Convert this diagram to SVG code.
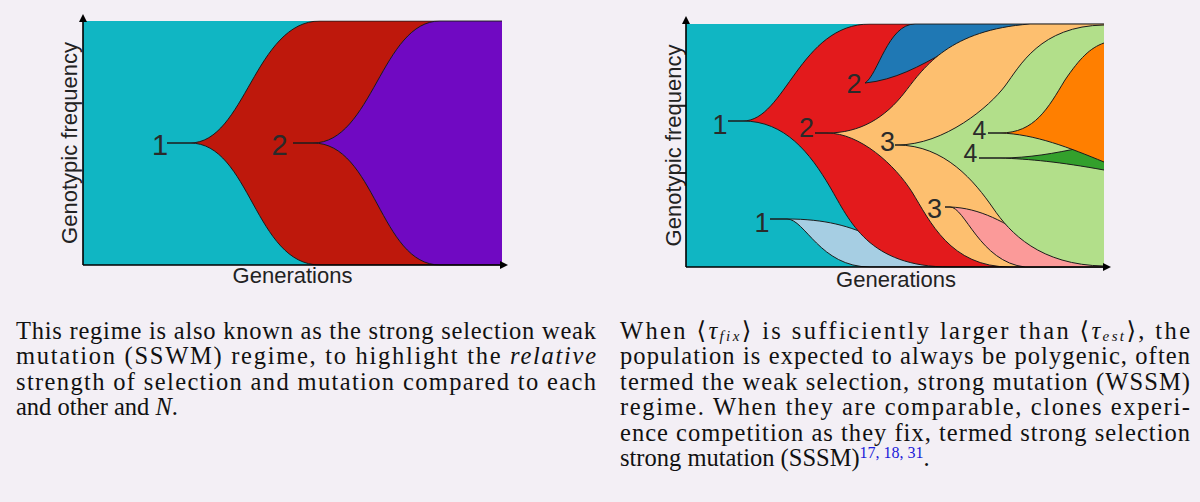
<svg xmlns="http://www.w3.org/2000/svg" width="1200" height="502" viewBox="0 0 1200 502">
<style>
.r{stroke:#1c1c1c;stroke-width:1;stroke-linejoin:round}
.ax{stroke:#000;stroke-width:1.6;fill:none}
.ah{fill:#000}
.lbl{font-family:'Liberation Sans',Arial,sans-serif;font-size:29px;fill:#2a2a2a;text-anchor:middle}
.lbr{font-family:'Liberation Sans',Arial,sans-serif;font-size:27px;fill:#2a2a2a;text-anchor:middle}
.lb4{font-family:'Liberation Sans',Arial,sans-serif;font-size:25px;fill:#2a2a2a;text-anchor:middle}
.title{font-family:'Liberation Sans',Arial,sans-serif;font-size:22px;fill:#222;text-anchor:middle}
.cap{font-family:'Liberation Serif','DejaVu Serif',serif;font-size:24.5px;fill:#111}
.it{font-style:italic}
.sub{font-style:italic;font-size:15px}
.ref{fill:#1a1ad8;font-size:16px}
</style>
<defs>
<clipPath id="clipL"><rect x="83" y="20.5" width="419" height="245"/></clipPath>
<clipPath id="clipR"><rect x="686" y="23.5" width="418" height="244"/></clipPath>
</defs>
<rect width="1200" height="502" fill="#F3EFF5"/>

<g id="left-plot">
  <g clip-path="url(#clipL)">
    <rect id="L-wildtype" x="83" y="21" width="419" height="244" fill="#10B6C3"/>
    <path id="L-clone1" class="r" fill="#BE180C" d="M167,143 L190,143 C245,143 255,21 320,21 L520,21 L520,265 L320,265 C255,265 250,143 190,143 Z"/>
    <path id="L-clone2" class="r" fill="#7009C2" d="M293,143 L313,143 C372,143 382,21 440,21 L520,21 L520,265 L440,265 C380,265 375,143 313,143 Z"/>
  </g>
  <text class="lbl" x="160" y="155">1</text>
  <text class="lbl" x="279.5" y="155">2</text>
  <text class="title" transform="translate(77,143) rotate(-90)">Genotypic frequency</text>
  <text class="title" x="292.5" y="283">Generations</text>
</g>

<g id="right-plot">
  <g clip-path="url(#clipR)">
    <rect id="R-wildtype" x="686" y="24" width="418" height="243" fill="#10B6C3"/>
    <path id="R-clone1b" class="r" fill="#A6CEE3" d="M770,219 L787,219 C825,219 850,226 875,238 L1110,250 L1110,267 L870,267 C820,267 805,219 787,219 Z"/>
    <path id="R-clone1" class="r" fill="#E31A1C" d="M728,121 L743,121 C785,121 800,24 870,24 L1110,24 L1110,267 L950,267 C868,267 850,221 830,187 C810,153 785,121 743,121 Z"/>
    <path id="R-clone2a" class="r" fill="#1F78B4" d="M865,83 C878,75 888,24 915,24 L1110,24 L1110,70 L960,70 L945,52 C920,66 895,80 865,83 Z"/>
    <path id="R-clone2b" class="r" fill="#FDBF6F" d="M815,133 L827,133 C860,133 885,118 905,92 C925,66 950,30 1030,24 L1110,24 L1110,267 L1010,267 C950,267 930,221 912,192 C895,165 860,133 827,133 Z"/>
    <path id="R-clone3b" class="r" fill="#FB9A99" d="M945,207 L950,207 C980,208 1005,222 1035,242 L1110,255 L1110,267 L1025,267 C980,262 965,207 950,207 Z"/>
    <path id="R-clone3a" class="r" fill="#B2DF8A" d="M895,145 L897,145 C945,145 990,106 1005,86 C1020,66 1040,26 1104,25 L1110,24 L1110,267 L1104,266 C1040,265 1010,233 993,208 C975,182 945,145 897,145 Z"/>
    <path id="R-clone4b" class="r" fill="#33A02C" d="M979,158 L1000,158 C1030,158 1055,153 1080,148 L1110,140 L1110,172 L1104,170 C1060,162 1030,159 1000,158 Z"/>
    <path id="R-clone4a" class="r" fill="#FF7F00" d="M988,133 L1000,133 C1035,133 1048,108 1065,80 C1080,58 1090,48 1104,43 L1110,42 L1110,164 L1104,162 C1070,148 1035,134 1000,133 Z"/>
  </g>
  <text class="lbr" x="720" y="134">1</text>
  <text class="lbr" x="806.5" y="137">2</text>
  <text class="lbr" x="854" y="93">2</text>
  <text class="lbr" x="887.5" y="151">3</text>
  <text class="lb4" x="979.5" y="139">4</text>
  <text class="lb4" x="970.5" y="162">4</text>
  <text class="lbr" x="934.5" y="218">3</text>
  <text class="lbr" x="762" y="232">1</text>
  <text class="title" transform="translate(681,145.5) rotate(-90)">Genotypic frequency</text>
  <text class="title" x="896" y="287">Generations</text>
</g>

<g id="axes">
  <path class="ax" d="M83,265 V19 M83,265 H502"/>
  <path class="ah" d="M83,14 L79,22 L87,22 Z M508,265 L500,261 L500,269 Z"/>
  <path class="ax" d="M686,267 V21 M686,267 H1105"/>
  <path class="ah" d="M686,16 L682,24 L690,24 Z M1111,267 L1103,263 L1103,271 Z"/>
</g>

<g id="caption-left" class="cap">
  <text x="16" y="339" textLength="580" lengthAdjust="spacing">This regime is also known as the strong selection weak</text>
  <text x="16" y="364" textLength="580" lengthAdjust="spacing">mutation (SSWM) regime, to highlight the <tspan class="it">relative</tspan></text>
  <text x="16" y="390" textLength="580" lengthAdjust="spacing">strength of selection and mutation compared to each</text>
  <text x="16" y="415">and other and <tspan class="it">N</tspan>.</text>
</g>

<g id="caption-right" class="cap">
  <text x="620" y="339" textLength="570" lengthAdjust="spacing">When ⟨<tspan class="it">τ</tspan><tspan class="sub" dy="2">fix</tspan><tspan dy="-2">⟩</tspan> is sufficiently larger than ⟨<tspan class="it">τ</tspan><tspan class="sub" dy="2">est</tspan><tspan dy="-2">⟩</tspan>, the</text>
  <text x="620" y="364" textLength="570" lengthAdjust="spacing">population is expected to always be polygenic, often</text>
  <text x="620" y="390" textLength="570" lengthAdjust="spacing">termed the weak selection, strong mutation (WSSM)</text>
  <text x="620" y="415" textLength="570" lengthAdjust="spacing">regime. When they are comparable, clones experi-</text>
  <text x="620" y="441" textLength="570" lengthAdjust="spacing">ence competition as they fix, termed strong selection</text>
  <text x="620" y="466">strong mutation (SSSM)<tspan class="ref" dy="-8">17, 18, 31</tspan><tspan dy="8">.</tspan></text>
</g>
</svg>
